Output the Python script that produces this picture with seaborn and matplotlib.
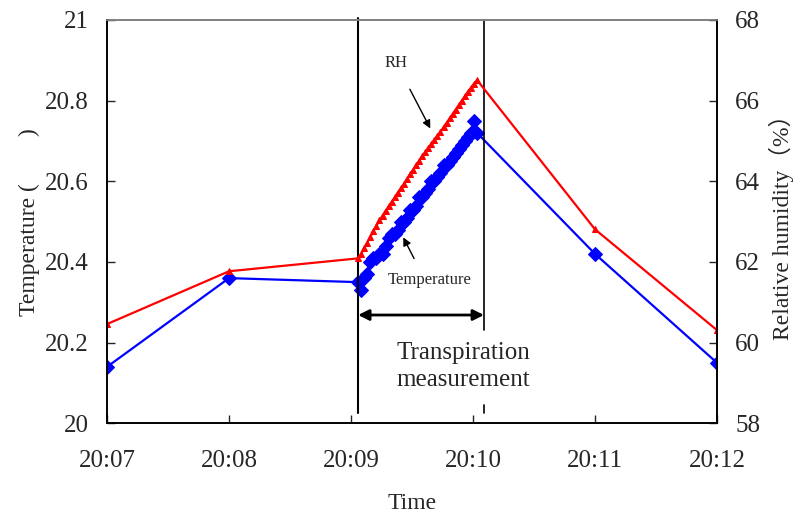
import numpy as np
import pandas as pd
import matplotlib
matplotlib.use('Agg')
import matplotlib.pyplot as plt
import seaborn as sns

sns.set_theme(style='ticks')
plt.rcParams['font.family'] = ['Liberation Serif', 'Noto Sans CJK JP']
plt.rcParams['axes.unicode_minus'] = False

# olcum noktalari (dakika, 20:xx)
sparse_min_before = [7, 8]
sparse_min_after = [11, 12]
temp_before = [20.14, 20.36]
temp_after = [20.42, 20.15]
rh_before = [60.46, 61.77]
rh_after = [62.81, 60.31]

# 20:09 - 20:10 arasi yogun olcum (saniye)
dense_min = 9
dense_sec = [3.5, 5, 6.5, 8, 9.5, 11, 12.5, 14, 15.5, 17, 18.5, 20, 21.5, 23,
             24.5, 26, 27.5, 29, 30.5, 32, 33.5, 35, 36.5, 38, 39.5, 41, 42.5,
             44, 45.5, 47, 48.5, 50, 51.5, 53, 54.5, 56, 57.5, 59, 60.5, 62]
dense_temp = [20.35, 20.33, 20.36, 20.37, 20.40, 20.41, 20.41, 20.42, 20.42,
              20.44, 20.46, 20.47, 20.47, 20.48, 20.50, 20.50, 20.51, 20.53,
              20.53, 20.54, 20.56, 20.56, 20.57, 20.58, 20.60, 20.60, 20.61,
              20.62, 20.64, 20.64, 20.65, 20.66, 20.67, 20.68, 20.69, 20.70,
              20.71, 20.72, 20.75, 20.72]
dense_rh = [62.09, 62.20, 62.35, 62.48, 62.62, 62.76, 62.90, 63.03, 63.15,
            63.27, 63.38, 63.49, 63.60, 63.72, 63.83, 63.94, 64.06, 64.17,
            64.28, 64.40, 64.51, 64.62, 64.72, 64.82, 64.92, 65.03, 65.13,
            65.23, 65.34, 65.45, 65.56, 65.67, 65.78, 65.89, 66.00, 66.11,
            66.22, 66.32, 66.42, 66.51]

x_ticks = [7, 8, 9, 10, 11, 12]
x_labels = ['20:07', '20:08', '20:09', '20:10', '20:11', '20:12']
temp_ticks = [20, 20.2, 20.4, 20.6, 20.8, 21]
temp_labels = ['20', '20.2', '20.4', '20.6', '20.8', '21']
rh_ticks = [58, 60, 62, 64, 66, 68]

# olcum baslangic / bitis zamani (dakika)
start_t = 9 + 3.5 / 60
end_t = 10 + 5.4 / 60

dense_x = [dense_min + s / 60 for s in dense_sec]
df_t = pd.DataFrame({'t': sparse_min_before + dense_x + sparse_min_after,
                     'v': temp_before + dense_temp + temp_after})
df_r = pd.DataFrame({'t': sparse_min_before + dense_x + sparse_min_after,
                     'v': rh_before + dense_rh + rh_after})

fig = plt.figure(figsize=(7.97, 5.18), dpi=100)
ax = fig.add_axes([0.1343, 0.1828, 0.7653, 0.7786])
ax2 = ax.twinx()

sns.lineplot(data=df_t, x='t', y='v', ax=ax, sort=False, estimator=None,
             color='#0000FF', lw=1.6, marker='D', markersize=7,
             markeredgecolor='#0000FF')
sns.lineplot(data=df_r, x='t', y='v', ax=ax2, sort=False, estimator=None,
             color='#FF0000', lw=1.6, marker='^', markersize=5,
             markeredgecolor='#FF0000')

ax.set_xlim(7, 12)
ax.set_ylim(20, 21)
ax2.set_ylim(58, 68)
ax.set_xticks(x_ticks)
ax.set_xticklabels(x_labels)
ax.set_yticks(temp_ticks)
ax.set_yticklabels(temp_labels)
ax2.set_yticks(rh_ticks)

fs = 18
ax.tick_params(axis='x', direction='in', length=6, width=1, pad=19, labelsize=fs)
ax.tick_params(axis='y', direction='in', length=6, width=1, pad=13, labelsize=fs)
ax2.tick_params(axis='y', direction='in', length=6, width=1, pad=13, labelsize=fs)

ax.set_xlabel('Time', fontsize=fs - 1, labelpad=15)
ax.set_ylabel('Temperature (        )', fontsize=fs - 1, labelpad=4)
ax2.set_ylabel('Relative humidity（%）', fontsize=fs - 1, labelpad=6)

for a in (ax, ax2):
    for s in ['left', 'right', 'bottom']:
        a.spines[s].set_color('black')
        a.spines[s].set_linewidth(1.2)
    a.spines['top'].set_color('gray')
    a.spines['top'].set_linewidth(1.2)

# dikey cizgiler ve ok
ax.plot([start_t, start_t], [21.005, 20.025], color='black', lw=1.5, clip_on=False)
ax.plot([end_t, end_t], [21.0, 20.231], color='black', lw=1.2, clip_on=False)
ax.plot([end_t, end_t], [20.045, 20.025], color='black', lw=1.2, clip_on=False)
ax.annotate('', xy=(start_t, 20.2685), xytext=(end_t, 20.2685),
            arrowprops=dict(arrowstyle='<|-|>', color='black', lw=2, mutation_scale=16,
                            shrinkA=0, shrinkB=0))
ax.text(9.92, 20.14, 'Transpiration\nmeasurement', ha='center', va='center',
        fontsize=fs, linespacing=1.3)

ax.annotate('RH', xy=(9.65, 20.731), xytext=(9.371, 20.893), fontsize=12,
            ha='center', va='center',
            arrowprops=dict(arrowstyle='-|>', color='black', lw=1, mutation_scale=12,
                            shrinkA=12, shrinkB=0, relpos=(0.5, 0.5)))
ax.annotate('Temperature', xy=(9.428, 20.461), xytext=(9.641, 20.356), fontsize=12,
            ha='center', va='center',
            arrowprops=dict(arrowstyle='-|>', color='black', lw=1, mutation_scale=12,
                            shrinkA=8, shrinkB=0, relpos=(0.4, 1.0)))

fig.savefig('out.png', dpi=100)
